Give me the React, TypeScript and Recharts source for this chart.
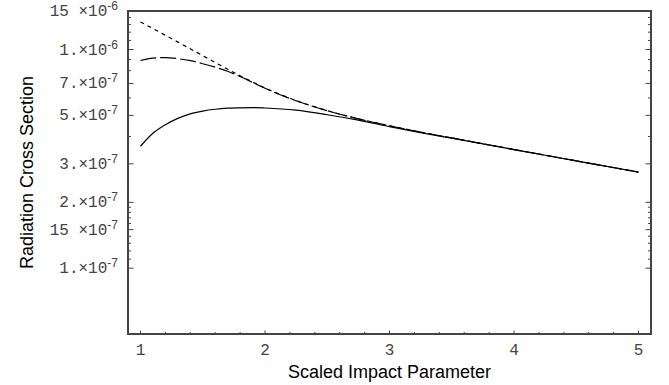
import { LineChart, Line, XAxis, YAxis, ReferenceArea } from 'recharts';

// scaled impact parameter (x)
const impactParameter = [1, 1.1, 1.2, 1.3, 1.4, 1.5, 1.6, 1.7, 1.8, 1.9, 2, 2.25, 2.5, 2.75, 3, 3.25, 3.5, 3.75, 4, 4.25, 4.5, 4.75, 5];

// short dashed curve
const shortDashed = [
  1.337e-6, 1.247e-6, 1.162e-6, 1.082e-6, 1.007e-6, 0.938e-6, 0.872e-6, 0.813e-6, 0.759e-6, 0.71e-6, 0.667e-6,
  0.584e-6, 0.5255e-6, 0.482e-6, 0.448e-6, 0.419e-6, 0.394e-6, 0.3706e-6, 0.3487e-6, 0.3285e-6, 0.3094e-6, 0.2917e-6, 0.275e-6,
];

// long dashed curve
const longDashed = [
  0.891e-6, 0.914e-6, 0.918e-6, 0.908e-6, 0.889e-6, 0.861e-6, 0.83e-6, 0.795e-6, 0.752e-6, 0.707e-6, 0.665e-6,
  0.583e-6, 0.525e-6, 0.4815e-6, 0.4475e-6, 0.4188e-6, 0.394e-6, 0.3706e-6, 0.3487e-6, 0.3285e-6, 0.3094e-6, 0.2917e-6, 0.275e-6,
];

// solid curve
const solid = [
  3.61e-7, 4.14e-7, 4.53e-7, 4.84e-7, 5.08e-7, 5.23e-7, 5.33e-7, 5.39e-7, 5.41e-7, 5.42e-7, 5.4e-7,
  5.28e-7, 5.03e-7, 4.75e-7, 4.44e-7, 4.17e-7, 3.93e-7, 3.705e-7, 3.487e-7, 3.285e-7, 3.094e-7, 2.917e-7, 2.75e-7,
];

const xMajorTicks = [1, 2, 3, 4, 5];
const xMinorTicks = [1.2, 1.4, 1.6, 1.8, 2.2, 2.4, 2.6, 2.8, 3.2, 3.4, 3.6, 3.8, 4.2, 4.4, 4.6, 4.8];

const yMajorTicks = [1.5e-6, 1e-6, 7e-7, 5e-7, 3e-7, 2e-7, 1.5e-7, 1e-7];
const yMajorMantissa = ['15 ', '1.', '7.', '5.', '3.', '2.', '15 ', '1.'];
const yMajorExponent = ['-6', '-6', '-7', '-7', '-7', '-7', '-7', '-7'];
const yMinorTicks = [
  1.4e-6, 1.3e-6, 1.2e-6, 1.1e-6, 9e-7, 8e-7, 6e-7, 4e-7,
  1.9e-7, 1.8e-7, 1.7e-7, 1.6e-7, 1.4e-7, 1.3e-7, 1.2e-7, 1.1e-7,
];

const data = impactParameter.map((x, i) => ({
  x,
  shortDashed: shortDashed[i],
  longDashed: longDashed[i],
  solid: solid[i],
}));

const W = 669;
const H = 385;
const PLOT_LEFT = 128;
const PLOT_RIGHT = 651;
const PLOT_TOP = 11;
const X_AXIS_H = 51;
const PLOT_W = PLOT_RIGHT - PLOT_LEFT;

const FRAME = '#444';
const LABEL = '#444';
const MONO = '"Liberation Mono", "DejaVu Sans Mono", monospace';
const SANS = '"Liberation Sans", Arial, sans-serif';

function YTick(props: any) {
  const { x, y, payload } = props;
  const idx = yMajorTicks.indexOf(payload.value);
  const major = idx >= 0;
  const len = major ? 5.5 : 3;
  return (
    <g>
      <line x1={x} x2={x + len} y1={y} y2={y} stroke={FRAME} strokeWidth={1} />
      <line x1={x + PLOT_W - len} x2={x + PLOT_W} y1={y} y2={y} stroke={FRAME} strokeWidth={1} />
      {major && (
        <text x={x - 10} y={y + 5} textAnchor="end" fill={LABEL} fontFamily={MONO} fontSize={16}>
          {yMajorMantissa[idx]}×10
          <tspan fontFamily={SANS} fontSize={12} dy={-6}>
            {yMajorExponent[idx]}
          </tspan>
        </text>
      )}
    </g>
  );
}

function XTick(props: any) {
  const { x, y, payload } = props;
  const major = xMajorTicks.indexOf(payload.value) >= 0;
  const len = major ? 3.5 : 2;
  return (
    <g>
      <line x1={x} x2={x} y1={y} y2={y - len} stroke={FRAME} strokeWidth={1} />
      {major && (
        <text x={x} y={y + 21} textAnchor="middle" fill={LABEL} fontFamily={MONO} fontSize={16}>
          {payload.value}
        </text>
      )}
    </g>
  );
}

export default function App() {
  return (
    <div style={{ position: 'absolute', left: 0, top: 0, background: '#fff' }}>
      <LineChart
        width={W}
        height={H}
        data={data}
        margin={{ top: PLOT_TOP, right: W - PLOT_RIGHT, bottom: 0, left: 0 }}
      >
        <XAxis
          dataKey="x"
          type="number"
          domain={[0.9, 5.1]}
          allowDataOverflow
          ticks={[...xMajorTicks, ...xMinorTicks]}
          interval={0}
          height={X_AXIS_H}
          axisLine={false}
          tickLine={false}
          tickSize={0}
          tickMargin={0}
          tick={<XTick />}
          label={{
            content: (p: any) => {
              const vb = p.viewBox;
              return (
                <text x={vb.x + vb.width / 2} y={vb.y + 44} textAnchor="middle" fill="#000" fontFamily={SANS} fontSize={18}>
                  Scaled Impact Parameter
                </text>
              );
            },
          }}
        />
        <YAxis
          type="number"
          scale="log"
          domain={[5e-8, 1.5e-6]}
          allowDataOverflow
          ticks={[...yMajorTicks, ...yMinorTicks]}
          interval={0}
          width={PLOT_LEFT}
          axisLine={false}
          tickLine={false}
          tickSize={0}
          tickMargin={0}
          tick={<YTick />}
          label={{
            content: (p: any) => {
              const vb = p.viewBox;
              const cx = 33;
              const cy = vb.y + vb.height / 2;
              return (
                <text x={cx} y={cy} transform={`rotate(-90, ${cx}, ${cy})`} textAnchor="middle" fill="#000" fontFamily={SANS} fontSize={18}>
                  Radiation Cross Section
                </text>
              );
            },
          }}
        />
        <ReferenceArea x1={0.9} x2={5.1} y1={5e-8} y2={1.5e-6} fill="none" fillOpacity={0} stroke={FRAME} strokeWidth={2} />
        <Line dataKey="solid" type="monotone" stroke="#000" strokeWidth={1.2} dot={false} isAnimationActive={false} />
        <Line dataKey="longDashed" type="monotone" stroke="#000" strokeWidth={1.2} strokeDasharray="16 4" dot={false} isAnimationActive={false} />
        <Line dataKey="shortDashed" type="monotone" stroke="#000" strokeWidth={1.2} strokeDasharray="4 4" dot={false} isAnimationActive={false} />
      </LineChart>
    </div>
  );
}
